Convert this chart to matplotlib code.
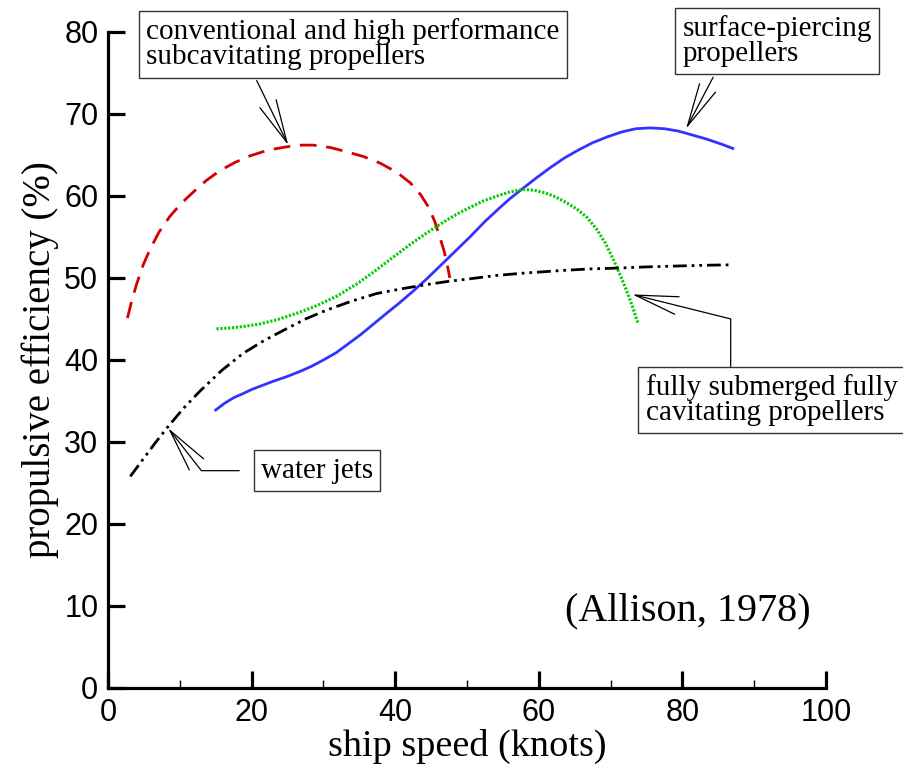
import matplotlib
matplotlib.use("Agg")
from matplotlib import pyplot as plt
from matplotlib.ticker import MultipleLocator

plt.rcParams["lines.scale_dashes"] = False

# conventional and high performance subcavitating propellers
sub_x = [2.7, 3.3, 4.0, 4.9, 5.85, 7.1, 8.6, 10.2, 11.9, 13.7, 15.6, 17.7, 19.8, 22.3, 24.9,
         26.8, 28.6, 31.0, 33.2, 35.6, 37.9, 40.2, 42.1, 43.5, 44.6, 45.5, 46.2, 46.8, 47.2, 47.6]
sub_y = [45.1, 47.2, 49.3, 51.6, 53.5, 55.6, 57.5, 59.1, 60.5, 61.9, 63.1, 64.1, 64.9, 65.6, 66.0,
         66.2, 66.2, 65.9, 65.4, 64.8, 64.0, 62.9, 61.6, 60.2, 58.7, 56.9, 55.0, 53.3, 51.8, 50.0]

# surface-piercing propellers
sp_x = [15.0, 16.2, 17.5, 18.8, 20.0, 21.5, 23.0, 25.0, 27.0, 28.5, 30.0, 31.8, 33.5, 35.2,
        37.0, 38.8, 40.5, 42.5, 44.4, 46.4, 48.4, 50.4, 52.5, 54.6, 56.0, 57.6, 59.5, 61.5,
        63.5, 65.5, 67.5, 69.5, 71.5, 73.5, 75.5, 77.5, 79.5, 81.5, 83.5, 85.5, 87.0]
sp_y = [33.9, 34.7, 35.4, 35.9, 36.4, 36.9, 37.4, 38.0, 38.7, 39.3, 40.0, 40.9, 42.0, 43.1,
        44.4, 45.7, 46.9, 48.4, 49.9, 51.6, 53.3, 55.0, 56.9, 58.6, 59.7, 60.8, 62.1, 63.4,
        64.6, 65.6, 66.5, 67.2, 67.8, 68.2, 68.3, 68.2, 67.9, 67.4, 66.9, 66.3, 65.8]

# fully submerged fully cavitating propellers
fc_x = [15.1, 17.0, 19.0, 21.2, 23.5, 26.3, 29.0, 31.9, 34.7, 37.4, 39.8, 42.1, 44.4, 46.7,
        48.6, 50.4, 52.3, 54.2, 56.0, 57.8, 59.3, 60.8, 62.3, 63.8, 65.3, 66.7, 68.0, 69.3,
        70.4, 71.4, 72.2, 73.0, 73.8]
fc_y = [43.8, 43.9, 44.1, 44.4, 44.9, 45.7, 46.6, 47.8, 49.3, 51.0, 52.6, 54.1, 55.5, 56.8,
        57.8, 58.6, 59.4, 60.0, 60.5, 60.8, 60.7, 60.4, 59.9, 59.2, 58.4, 57.4, 56.0, 54.2,
        52.2, 50.2, 48.5, 46.6, 44.5]

# water jets
wj_x = [3.1, 4.8, 6.5, 8.2, 10.5, 12.8, 15.8, 18.8, 21.6, 24.4, 27.5, 30.5, 34.0, 37.4,
        41.0, 44.4, 47.5, 50.4, 54.0, 58.0, 63.0, 67.0, 70.8, 75.0, 79.0, 83.0, 86.6]
wj_y = [25.8, 27.8, 29.8, 31.7, 34.1, 36.2, 38.7, 40.8, 42.3, 43.6, 45.0, 46.1, 47.2, 48.1,
        48.7, 49.2, 49.6, 49.9, 50.3, 50.6, 50.9, 51.1, 51.2, 51.35, 51.45, 51.55, 51.6]

serif = "Liberation Serif"
sans = "Liberation Sans"

fig = plt.figure(figsize=(9.04, 7.65), dpi=100)
ax = fig.add_axes([0.1195, 0.1007, 0.7943, 0.8575])

ax.plot(sub_x, sub_y, color="#d40000", lw=2.0, dashes=(12, 7))
ax.plot(sp_x, sp_y, color="#3333ff", lw=2.0)
ax.plot(fc_x, fc_y, color="#00cc00", lw=2.2, dashes=(1.6, 1.2))
ax.plot(wj_x, wj_y, color="black", lw=2.0, dashes=(10, 3.5, 2, 3.5, 2, 3.5))

ax.set_xlim(0, 100)
ax.set_ylim(0, 80)
ax.xaxis.set_major_locator(MultipleLocator(20))
ax.xaxis.set_minor_locator(MultipleLocator(10))
ax.yaxis.set_major_locator(MultipleLocator(10))

for s in ["top", "right"]:
    ax.spines[s].set_visible(False)
for s in ["left", "bottom"]:
    ax.spines[s].set_linewidth(2.3)

ax.tick_params(which="major", direction="in", length=12, width=2.3, pad=7, labelsize=22)
ax.tick_params(which="minor", direction="in", length=6, width=1.0)
for lab in ax.get_xticklabels() + ax.get_yticklabels():
    lab.set_family(sans)

ax.set_xlabel("ship speed (knots)", family=serif, fontsize=27.5, labelpad=1)
ax.set_ylabel("propulsive efficiency (%)", family=serif, fontsize=28, labelpad=4)

box = dict(boxstyle="square,pad=0.25", fc="white", ec="#333333", lw=1.0)
head = "->,head_length=3.1,head_width=0.65"

ax.annotate("conventional and high performance\nsubcavitating propellers",
            xy=(25.1, 66.2), xytext=(34.05, 78.5), ha="center", va="center",
            multialignment="left", family=serif, fontsize=21, linespacing=0.95,
            bbox=box, annotation_clip=False,
            arrowprops=dict(arrowstyle=head, mutation_scale=10, lw=0.9, color="black",
                            relpos=(0.256, 0.0), shrinkA=2, shrinkB=0))

ax.annotate("surface-piercing\npropellers",
            xy=(80.5, 68.2), xytext=(93.2, 78.9), ha="center", va="center",
            multialignment="left", family=serif, fontsize=21, linespacing=0.95,
            bbox=box, annotation_clip=False,
            arrowprops=dict(arrowstyle=head, mutation_scale=10, lw=0.9, color="black",
                            relpos=(0.19, 0.0), shrinkA=2, shrinkB=0))

ax.annotate("fully submerged fully\ncavitating propellers",
            xy=(73.0, 48.0), xytext=(92.4, 35.1), ha="center", va="center",
            multialignment="left", family=serif, fontsize=21, linespacing=0.95,
            bbox=box, annotation_clip=False,
            arrowprops=dict(arrowstyle=head, mutation_scale=10, lw=0.9, color="black",
                            relpos=(0.338, 1.0), shrinkA=0, shrinkB=0,
                            connectionstyle="angle,angleA=90,angleB=-14,rad=0"))

ax.annotate("water jets",
            xy=(8.36, 31.7), xytext=(29.1, 26.5), ha="center", va="center",
            family=serif, fontsize=21, bbox=box, annotation_clip=False,
            arrowprops=dict(arrowstyle=head, mutation_scale=10, lw=0.9, color="black",
                            relpos=(0.0, 0.5), shrinkA=10, shrinkB=0,
                            connectionstyle="angle,angleA=0,angleB=-52,rad=0"))

ax.text(80.8, 9.4, "(Allison, 1978)", ha="center", va="center", family=serif, fontsize=29)

fig.savefig("out.png", dpi=100)
